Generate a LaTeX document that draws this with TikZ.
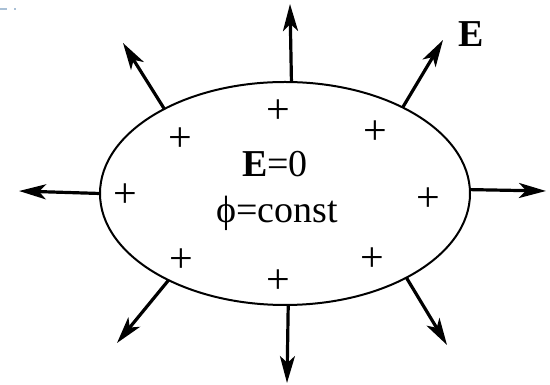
\documentclass[tikz,border=0pt]{standalone}
\usepackage{fontspec}
\setmainfont{Liberation Serif}
\usetikzlibrary{arrows.meta,calc}
\definecolor{artblue}{HTML}{A9C0D6}
\tikzset{
  field/.style={line width=3.2pt,-{Stealth[length=27pt,width=15pt,inset=7pt]}},
  surface/.style={line width=2pt},
  plus/.style={font=\fontsize{42}{42}\selectfont, inner sep=0pt},
  lbl/.style={font=\fontsize{38}{38}\selectfont, inner sep=0pt, anchor=base}
}
\begin{document}
\begin{tikzpicture}[x=1pt,y=1pt]
\useasboundingbox (0,0) rectangle (550,385);
% tiny artifact at top left
\draw[artblue, line width=2pt] (0,376) -- (7,376);
\draw[artblue, line width=2pt] (14,376) -- (16,376);
% conductor
\coordinate (c) at (285,191.5);
\draw[surface] (c) ellipse [x radius=185, y radius=111.5];
% base points on surface
\coordinate (bT)  at ($(c)+(88:185 and 111.5)$);
\coordinate (bUR) at ($(c)+(50.5:185 and 111.5)$);
\coordinate (bR)  at ($(c)+(2:185 and 111.5)$);
\coordinate (bLR) at ($(c)+(-49:185 and 111.5)$);
\coordinate (bB)  at ($(c)+(-89:185 and 111.5)$);
\coordinate (bLL) at ($(c)+(-129:185 and 111.5)$);
\coordinate (bL)  at ($(c)+(180:185 and 111.5)$);
\coordinate (bUL) at ($(c)+(130.7:185 and 111.5)$);
% tips
\coordinate (tT)  at (290,381);
\coordinate (tUR) at (443,345);
\coordinate (tR)  at (546,194);
\coordinate (tLR) at (447,40);
\coordinate (tB)  at (287,2);
\coordinate (tLL) at (117,42);
\coordinate (tL)  at (19,194);
\coordinate (tUL) at (123,342);
\foreach \n in {T,UR,R,LR,B,LL,L,UL}{
  \draw[field] (b\n) -- (t\n);
}
% charges
\node[plus] (p1) at (278,273) {+};
\node[plus] (p2) at (180,245) {+};
\node[plus] (p3) at (375,252) {+};
\node[plus] (p4) at (125,189) {+};
\node[plus] (p5) at (428,185) {+};
\node[plus] (p6) at (181,124) {+};
\node[plus] (p7) at (372,125) {+};
\node[plus] (p8) at (278,103) {+};
% labels
\node[lbl] (e0) at (275,208) {\textbf{E}=0};
\node[lbl] (phi) at (277,162) {ϕ=const};
\node[lbl] (E) at (471,338) {\textbf{E}};
\end{tikzpicture}
\end{document}
